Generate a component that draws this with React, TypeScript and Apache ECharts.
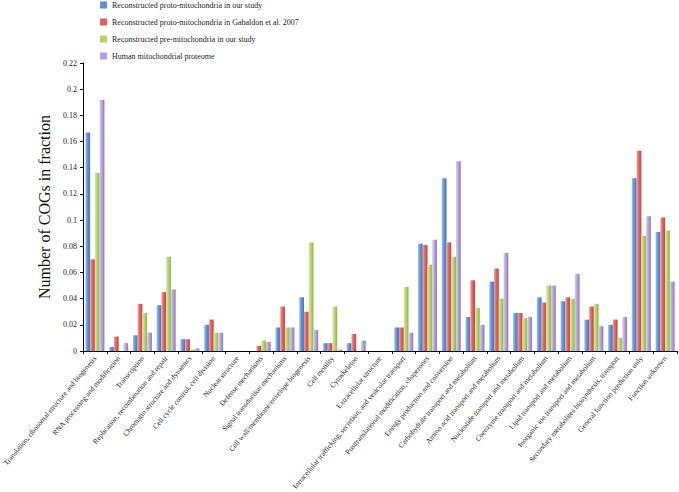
import React, { useEffect, useRef } from "react";
import * as echarts from "echarts";

const categories = [
  "Translation, ribosomal structure and biogenesis",
  "RNA processing and modification",
  "Transcription",
  "Replication, recombination and repair",
  "Chromatin structure and dynamics",
  "Cell cycle control, cell division",
  "Nuclear structure",
  "Defense mechanisms",
  "Signal transduction mechanisms",
  "Cell wall/membrane/envelope biogenesis",
  "Cell motility",
  "Cytoskeleton",
  "Extracellular structure",
  "Intracellular trafficking, secretion, and vesicular transport",
  "Posttranslational modification, chaperones",
  "Energy production and conversion",
  "Carbohydrate transport and metabolism",
  "Amino acid transport and metabolism",
  "Nucleotide transport and metabolism",
  "Coenzyme transport and metabolism",
  "Lipid transport and metabolism",
  "Inorganic ion transport and metabolism",
  "Secondary metabolites biosynthesis, transport",
  "General function prediction only",
  "Function unknown",
];

const seriesNames = [
  "Reconstructed proto-mitochondria in our study",
  "Reconstructed proto-mitochondria in Gabaldon et al. 2007",
  "Reconstructed pre-mitochondria in our study",
  "Human mitochondrial proteome",
];

const protoOurStudy = [0.167, 0.003, 0.012, 0.035, 0.009, 0.020, 0, 0, 0.018, 0.041, 0.006, 0.006, 0, 0.018, 0.082, 0.132, 0.026, 0.053, 0.029, 0.041, 0.038, 0.024, 0.020, 0.132, 0.091];
const protoGabaldon = [0.070, 0.011, 0.036, 0.045, 0.009, 0.024, 0, 0.004, 0.034, 0.030, 0.006, 0.013, 0, 0.018, 0.081, 0.083, 0.054, 0.063, 0.029, 0.037, 0.041, 0.034, 0.024, 0.153, 0.102];
const preOurStudy = [0.136, 0, 0.029, 0.072, 0.001, 0.014, 0, 0.008, 0.018, 0.083, 0.034, 0, 0, 0.049, 0.066, 0.072, 0.033, 0.040, 0.025, 0.050, 0.040, 0.036, 0.010, 0.088, 0.092];
const humanProteome = [0.192, 0.006, 0.014, 0.047, 0.002, 0.014, 0, 0.007, 0.018, 0.016, 0.001, 0.008, 0, 0.014, 0.085, 0.145, 0.020, 0.075, 0.026, 0.050, 0.059, 0.019, 0.026, 0.103, 0.053];

const yTicks = [0, 0.02, 0.04, 0.06, 0.08, 0.1, 0.12, 0.14, 0.16, 0.18, 0.2, 0.22];

const seriesData = [protoOurStudy, protoGabaldon, preOurStudy, humanProteome];
const baseColors = ["#5b8fd6", "#e06060", "#b3d36a", "#b3a2d7"];
const gradStops = [
  ["#a3c3ec", "#6495d8", "#4373b8"],
  ["#f3a3a1", "#e26664", "#bb4745"],
  ["#d8eba6", "#b7d572", "#93b04c"],
  ["#d9cfec", "#b7a7d9", "#8d78b6"],
];

const FONT = "'Liberation Serif', 'Times New Roman', serif";

export default function App() {
  const ref = useRef<HTMLDivElement>(null);
  useEffect(() => {
    if (!ref.current) return;
    const chart = echarts.init(ref.current, null, { renderer: "svg" });
    chart.setOption({
      animation: false,
      backgroundColor: "#ffffff",
      legend: {
        orient: "vertical",
        left: 95,
        top: -4,
        itemWidth: 7,
        itemHeight: 7,
        itemGap: 9,
        icon: "rect",
        textStyle: { fontFamily: FONT, fontSize: 8, color: "#222" },
        data: seriesNames.map((n, i) => ({ name: n, itemStyle: { color: baseColors[i] } })),
      },
      grid: { left: 83, right: 2, top: 63, bottom: 141, containLabel: false, outerBoundsMode: "none" },
      xAxis: {
        type: "category",
        data: categories,
        axisLine: { lineStyle: { color: "#000", width: 1 } },
        axisTick: { show: true, length: 3, lineStyle: { color: "#000" } },
        axisLabel: {
          rotate: 50,
          interval: 0,
          margin: 6,
          fontFamily: FONT,
          fontSize: 7.4,
          color: "#222",
          hideOverlap: false,
        },
      },
      yAxis: {
        type: "value",
        min: 0,
        max: 0.22,
        interval: 0.02,
        name: "Number of COGs in fraction",
        nameLocation: "middle",
        nameGap: 30,
        nameTextStyle: { fontFamily: FONT, fontSize: 16, color: "#111" },
        axisLine: { show: true, lineStyle: { color: "#000", width: 1 } },
        axisTick: { show: true, length: 3, lineStyle: { color: "#000" } },
        splitLine: { show: false },
        axisLabel: {
          fontFamily: FONT,
          fontSize: 8,
          color: "#222",
          margin: 6,
          formatter: (v: number) => {
            const t = yTicks.find((x) => Math.abs(x - v) < 1e-9);
            return t === undefined ? "" : String(parseFloat(t.toFixed(2)));
          },
        },
      },
      series: seriesData.map((d, i) => ({
        name: seriesNames[i],
        type: "bar",
        data: d,
        barGap: "0%",
        barCategoryGap: "20%",
        itemStyle: {
          color: new echarts.graphic.LinearGradient(0, 0, 1, 0, [
            { offset: 0, color: gradStops[i][0] },
            { offset: 0.45, color: gradStops[i][1] },
            { offset: 1, color: gradStops[i][2] },
          ]),
        },
      })),
    });
    return () => chart.dispose();
  }, []);
  return (
    <div
      ref={ref}
      style={{ position: "fixed", left: 0, top: 0, width: 679, height: 492, background: "#fff" }}
    />
  );
}
